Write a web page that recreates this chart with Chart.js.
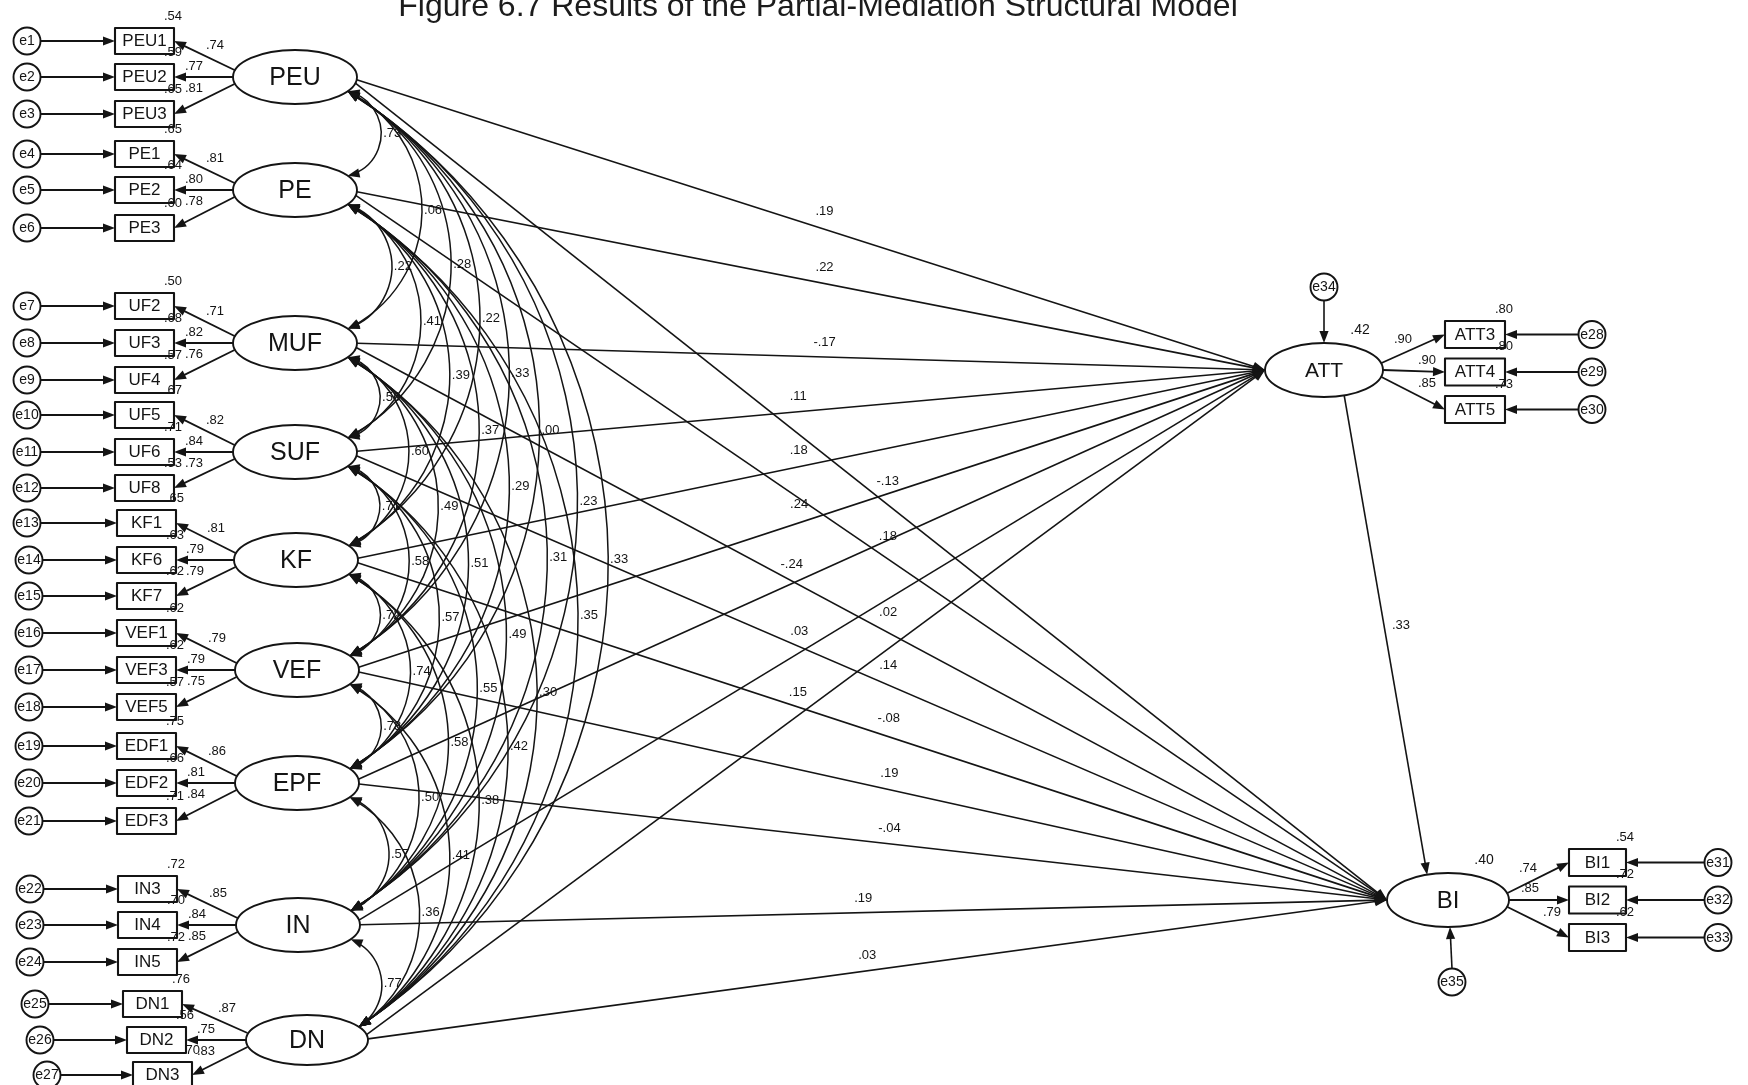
<!DOCTYPE html>
<html>
<head>
<meta charset="utf-8">
<title>Partial-Mediation Structural Model</title>
<script src="https://cdn.jsdelivr.net/npm/chart.js@4.4.1/dist/chart.umd.min.js"></script>
<style>
  html, body { margin: 0; padding: 0; background: #ffffff; overflow: hidden; }
  canvas { display: block; }
</style>
</head>
<body>
<canvas id="sem" width="1748" height="1085"></canvas>
<script>
// Standardized estimates of the partial-mediation structural model
const figureTitle = 'Figure 6.7 Results of the Partial-Mediation Structural Model';

// exogenous latent factors and their indicators
const exoFactors = ['PEU', 'PE', 'MUF', 'SUF', 'KF', 'VEF', 'EPF', 'IN', 'DN'];
const exoItems = [
  ['PEU1', 'PEU2', 'PEU3'], ['PE1', 'PE2', 'PE3'], ['UF2', 'UF3', 'UF4'],
  ['UF5', 'UF6', 'UF8'], ['KF1', 'KF6', 'KF7'], ['VEF1', 'VEF3', 'VEF5'],
  ['EDF1', 'EDF2', 'EDF3'], ['IN3', 'IN4', 'IN5'], ['DN1', 'DN2', 'DN3']
];
const exoLoadings = [
  [.74, .77, .81], [.81, .80, .78], [.71, .82, .76],
  [.82, .84, .73], [.81, .79, .79], [.79, .79, .75],
  [.86, .81, .84], [.85, .84, .85], [.87, .75, .83]
];
const exoItemSMC = [
  [.54, .59, .65], [.65, .64, .60], [.50, .68, .57],
  [.67, .71, .53], [.65, .63, .62], [.62, .62, .57],
  [.75, .66, .71], [.72, .70, .72], [.76, .56, .70]
];
const exoErrors = [
  ['e1', 'e2', 'e3'], ['e4', 'e5', 'e6'], ['e7', 'e8', 'e9'],
  ['e10', 'e11', 'e12'], ['e13', 'e14', 'e15'], ['e16', 'e17', 'e18'],
  ['e19', 'e20', 'e21'], ['e22', 'e23', 'e24'], ['e25', 'e26', 'e27']
];

// correlations among exogenous factors: row i holds r(i, 0..i-1)
const exoCorr = [
  [],
  [.73],
  [.06, .22],
  [.28, .41, .56],
  [.22, .39, .60, .71],
  [.33, .37, .49, .58, .72],
  [.00, .29, .51, .57, .74, .73],
  [.23, .31, .49, .55, .58, .50, .57],
  [.33, .35, .30, .42, .38, .41, .36, .77]
];

// structural paths
const pathToATT = [.19, .22, -.17, .11, .18, .24, -.24, .03, .15];
const pathToBI = [-.13, .18, .02, .14, -.08, .19, -.04, .19, .03];
const pathATTtoBI = .33;

// endogenous factors
const endoFactors = ['ATT', 'BI'];
const endoSMC = [.42, .40];
const endoDisturbances = ['e34', 'e35'];
const endoItems = [['ATT3', 'ATT4', 'ATT5'], ['BI1', 'BI2', 'BI3']];
const endoLoadings = [[.90, .90, .85], [.74, .85, .79]];
const endoItemSMC = [[.80, .80, .73], [.54, .72, .62]];
const endoErrors = [['e28', 'e29', 'e30'], ['e31', 'e32', 'e33']];

// ---------- drawing layout (diagram units on the x/y scales) ----------
const layout = {
  exoX: [295, 295, 295, 295, 296, 297, 297, 298, 307],
  exoY: [77, 190, 343, 452, 560, 670, 783, 925, 1040],
  exoRx: [62, 62, 62, 62, 62, 62, 62, 62, 61],
  exoRy: [27, 27, 27, 27, 27, 27, 27, 27, 25],
  itemDy: [[-36, 0, 37], [-36, 0, 38], [-37, 0, 37], [-37, 0, 36], [-37, 0, 36],
           [-37, 0, 37], [-37, 0, 38], [-36, 0, 37], [-36, 0, 35]],
  boxLeft: [[115, 115, 115], [115, 115, 115], [115, 115, 115], [115, 115, 115],
            [117, 117, 117], [117, 117, 117], [117, 117, 117], [118, 118, 118], [123, 127, 133]],
  boxW: 59, boxH: 26,
  errX: [[27, 27, 27], [27, 27, 27], [27, 27, 27], [27, 27, 27], [27, 29, 29],
         [29, 29, 29], [29, 29, 29], [30, 30, 30], [35, 40, 47]],
  errR: 13.5,
  loadPosLeft: [[-80, -32], [-101, -11], [-101, 11]],
  arcTheta: 32 * Math.PI / 180,
  arcBase: 351, arcGain: 0.267,
  endoX: [1324, 1448], endoY: [370, 900], endoRx: [59, 61], endoRy: [27, 27],
  endoFont: [21, 24],
  endoBoxLeft: [1445, 1569], endoBoxW: [60, 57], endoBoxH: 27,
  endoItemDy: [[-35.5, 2, 39.5], [-37.5, 0, 37.5]],
  endoErrX: [1592, 1718],
  endoLoadPos: [[[79, -31], [103, -10], [103, 13]], [[80, -32], [82, -12], [104, 12]]],
  disturbance: [[1324, 287], [1452, 982]],
  attLabelT: [.515, .515, .515, .486, .486, .486, .478, .486, .48],
  biLabelT: [.516, .516, .516, .516, .516, .516, .516, .49, .49],
  titleX: 818, titleY: 16
};

const ink = '#141414';
const FONT = '"Liberation Sans", Arial, Helvetica, sans-serif';
const fmt = v => (v < 0 ? '-' : '') + Math.abs(v).toFixed(2).replace(/^0/, '');

const semDiagram = {
  id: 'semDiagram',
  beforeDraw(chart) {
    const c = chart.ctx;
    c.save();
    c.fillStyle = '#ffffff';
    c.fillRect(0, 0, chart.width, chart.height);
    c.restore();
  },
  afterDraw(chart) {
    const ctx = chart.ctx;
    const sx = chart.scales.x, sy = chart.scales.y;
    const px = v => sx.getPixelForValue(v);
    const py = v => sy.getPixelForValue(v);
    const P = (x, y) => ({ x: px(x), y: py(y) });
    const lx = d => px(d) - px(0);
    const ly = d => Math.abs(py(d) - py(0));

    ctx.save();
    ctx.strokeStyle = ink;
    ctx.fillStyle = ink;
    ctx.lineJoin = 'round';
    ctx.lineCap = 'butt';

    const head = (tip, ux, uy, len = 12, hw = 4.6) => {
      ctx.beginPath();
      ctx.moveTo(tip.x, tip.y);
      ctx.lineTo(tip.x - ux * len - uy * hw, tip.y - uy * len + ux * hw);
      ctx.lineTo(tip.x - ux * len + uy * hw, tip.y - uy * len - ux * hw);
      ctx.closePath();
      ctx.fill();
    };
    const arrow = (a, b, w = 1.6) => {
      const A = P(a.x, a.y), B = P(b.x, b.y);
      const d = Math.hypot(B.x - A.x, B.y - A.y);
      const ux = (B.x - A.x) / d, uy = (B.y - A.y) / d;
      ctx.lineWidth = w;
      ctx.beginPath();
      ctx.moveTo(A.x, A.y);
      ctx.lineTo(B.x - ux * 6, B.y - uy * 6);
      ctx.stroke();
      head(B, ux, uy);
    };
    const label = (s, x, y, size, align = 'center', baseline = 'middle') => {
      ctx.font = size + 'px ' + FONT;
      ctx.textAlign = align;
      ctx.textBaseline = baseline;
      ctx.fillText(s, px(x), py(y));
    };
    const ellipse = (cx, cy, rx, ry) => {
      ctx.beginPath();
      ctx.ellipse(px(cx), py(cy), lx(rx), ly(ry), 0, 0, Math.PI * 2);
      ctx.fillStyle = '#ffffff';
      ctx.fill();
      ctx.fillStyle = ink;
      ctx.lineWidth = 1.9;
      ctx.stroke();
    };
    const box = (x, cy, w, h) => {
      ctx.lineWidth = 2.1;
      ctx.fillStyle = '#ffffff';
      ctx.fillRect(px(x), py(cy - h / 2), lx(w), ly(h));
      ctx.strokeRect(px(x), py(cy - h / 2), lx(w), ly(h));
      ctx.fillStyle = ink;
    };
    const circle = (cx, cy, r) => {
      ctx.beginPath();
      ctx.arc(px(cx), py(cy), lx(r), 0, Math.PI * 2);
      ctx.fillStyle = '#ffffff';
      ctx.fill();
      ctx.fillStyle = ink;
      ctx.lineWidth = 1.9;
      ctx.stroke();
    };
    const onEllipse = (cx, cy, rx, ry, a) => ({ x: cx + rx * Math.cos(a), y: cy + ry * Math.sin(a) });

    // ---- title (runs off the top edge) ----
    ctx.font = '32px ' + FONT;
    ctx.textAlign = 'center';
    ctx.textBaseline = 'alphabetic';
    ctx.fillStyle = '#1c1c1c';
    ctx.fillText(figureTitle, px(layout.titleX), py(layout.titleY));
    ctx.fillStyle = ink;

    const nF = exoFactors.length;
    const ATT = { x: layout.endoX[0], y: layout.endoY[0], rx: layout.endoRx[0], ry: layout.endoRy[0] };
    const BI = { x: layout.endoX[1], y: layout.endoY[1], rx: layout.endoRx[1], ry: layout.endoRy[1] };

    // ---- shapes first so connectors sit on top ----
    exoFactors.forEach((f, i) => ellipse(layout.exoX[i], layout.exoY[i], layout.exoRx[i], layout.exoRy[i]));
    [ATT, BI].forEach(e => ellipse(e.x, e.y, e.rx, e.ry));

    // ---- correlation arcs among exogenous factors ----
    const th = layout.arcTheta;
    const corrLabels = [];
    for (let j = 1; j < nF; j++) {
      for (let i = 0; i < j; i++) {
        const a = onEllipse(layout.exoX[i], layout.exoY[i], layout.exoRx[i], layout.exoRy[i], th);
        const b = onEllipse(layout.exoX[j], layout.exoY[j], layout.exoRx[j], layout.exoRy[j], -th);
        const apex = { x: layout.arcBase + layout.arcGain * (layout.exoY[j] - layout.exoY[i]), y: (a.y + b.y) / 2 };
        const A = P(a.x, a.y), B = P(b.x, b.y), M = P(apex.x, apex.y);
        const d = 2 * (A.x * (B.y - M.y) + B.x * (M.y - A.y) + M.x * (A.y - B.y));
        const s1 = A.x * A.x + A.y * A.y, s2 = B.x * B.x + B.y * B.y, s3 = M.x * M.x + M.y * M.y;
        const cx = (s1 * (B.y - M.y) + s2 * (M.y - A.y) + s3 * (A.y - B.y)) / d;
        const cy = (s1 * (M.x - B.x) + s2 * (A.x - M.x) + s3 * (B.x - A.x)) / d;
        const r = Math.hypot(A.x - cx, A.y - cy);
        const a1 = Math.atan2(A.y - cy, A.x - cx);
        const a2 = Math.atan2(B.y - cy, B.x - cx);
        const trim = 6 / r;
        ctx.lineWidth = 1.5;
        ctx.beginPath();
        ctx.arc(cx, cy, r, a1 + trim, a2 - trim, false);
        ctx.stroke();
        head(A, Math.sin(a1), -Math.cos(a1));
        head(B, -Math.sin(a2), Math.cos(a2));
        corrLabels.push([fmt(exoCorr[j][i]), apex.x + 2, apex.y]);
      }
    }

    // ---- structural paths ----
    const attIn = { x: ATT.x - ATT.rx, y: ATT.y };
    const biIn = { x: BI.x - BI.rx, y: BI.y };
    const pathLabels = [];
    exoFactors.forEach((f, i) => {
      const fx = layout.exoX[i], fy = layout.exoY[i];
      [[attIn, pathToATT[i], layout.attLabelT[i]], [biIn, pathToBI[i], layout.biLabelT[i]]].forEach(([tgt, v, t]) => {
        const ang = 0.35 * Math.atan2(tgt.y - fy, tgt.x - fx);
        const s = onEllipse(fx, fy, layout.exoRx[i], layout.exoRy[i], ang);
        arrow(s, tgt, 1.6);
        const slope = (tgt.y - s.y) / (tgt.x - s.x);
        const lxp = s.x + t * (tgt.x - s.x);
        const lyp = s.y + t * (tgt.y - s.y) - (14 + 12 * Math.abs(slope));
        pathLabels.push([fmt(v), lxp, lyp]);
      });
    });
    // ATT -> BI
    {
      const s = onEllipse(ATT.x, ATT.y, ATT.rx, ATT.ry, 70 * Math.PI / 180);
      const e = onEllipse(BI.x, BI.y, BI.rx, BI.ry, -110 * Math.PI / 180);
      arrow(s, e, 1.6);
      const t = 0.48;
      pathLabels.push([fmt(pathATTtoBI), s.x + t * (e.x - s.x) + 17, s.y + t * (e.y - s.y)]);
    }

    // ---- measurement model, exogenous side ----
    exoFactors.forEach((f, i) => {
      const fx = layout.exoX[i], fy = layout.exoY[i], rx = layout.exoRx[i];
      exoItems[i].forEach((item, k) => {
        const cy = fy + layout.itemDy[i][k];
        const left = layout.boxLeft[i][k], right = left + layout.boxW;
        box(left, cy, layout.boxW, layout.boxH);
        label(item, left + layout.boxW / 2, cy + 0.5, 17);
        // error term
        const ex = layout.errX[i][k];
        circle(ex, cy, layout.errR);
        label(exoErrors[i][k], ex, cy + 0.5, 14);
        arrow({ x: ex + layout.errR, y: cy }, { x: left, y: cy }, 1.8);
        // loading
        const sy0 = fy + (k - 1) * 7;
        arrow({ x: fx - rx + (k === 1 ? 0 : 1.5), y: sy0 }, { x: right, y: cy }, 1.8);
        const lp = layout.loadPosLeft[k];
        label(fmt(exoLoadings[i][k]), fx + lp[0], fy + lp[1], 13);
        // squared multiple correlation
        label(fmt(exoItemSMC[i][k]), right + 8, cy - layout.boxH / 2 - 12, 13, 'right');
      });
      label(f, fx, fy + 1, 25);
    });

    // ---- measurement model, endogenous side ----
    [ATT, BI].forEach((E, m) => {
      const left = layout.endoBoxLeft[m], w = layout.endoBoxW[m], h = layout.endoBoxH;
      endoItems[m].forEach((item, k) => {
        const cy = E.y + layout.endoItemDy[m][k];
        box(left, cy, w, h);
        label(item, left + w / 2, cy + 0.5, 17);
        const ex = layout.endoErrX[m];
        circle(ex, cy, layout.errR);
        label(endoErrors[m][k], ex, cy + 0.5, 14);
        arrow({ x: ex - layout.errR, y: cy }, { x: left + w, y: cy }, 1.8);
        arrow({ x: E.x + E.rx - (k === 1 ? 0 : 1.5), y: E.y + (k - 1) * 7 }, { x: left, y: cy }, 1.8);
        const lp = layout.endoLoadPos[m][k];
        label(fmt(endoLoadings[m][k]), E.x + lp[0], E.y + lp[1], 13);
        label(fmt(endoItemSMC[m][k]), left + w + 8, cy - h / 2 - 12, 13, 'right');
      });
      // disturbance
      const d = layout.disturbance[m];
      circle(d[0], d[1], layout.errR);
      label(endoDisturbances[m], d[0], d[1] + 0.5, 14);
      if (m === 0) arrow({ x: d[0], y: d[1] + layout.errR }, { x: E.x, y: E.y - E.ry }, 1.6);
      else arrow({ x: d[0], y: d[1] - layout.errR }, { x: E.x + 2, y: E.y + E.ry }, 1.6);
      label(endoFactors[m], E.x, E.y + 1, layout.endoFont[m]);
      label(fmt(endoSMC[m]), E.x + 36, E.y - 40, 14);
    });

    // ---- coefficient labels ----
    corrLabels.forEach(([s, x, y]) => label(s, x, y, 13, 'left'));
    pathLabels.forEach(([s, x, y]) => label(s, x, y, 13));

    ctx.restore();
  }
};

new Chart(document.getElementById('sem'), {
  type: 'scatter',
  data: { datasets: [] },
  options: {
    responsive: false,
    animation: false,
    devicePixelRatio: 1,
    events: [],
    layout: { padding: 0 },
    plugins: { legend: { display: false }, tooltip: { enabled: false }, title: { display: false } },
    scales: {
      x: { type: 'linear', min: 0, max: 1748, display: false },
      y: { type: 'linear', min: 0, max: 1085, reverse: true, display: false }
    }
  },
  plugins: [semDiagram]
});
</script>
</body>
</html>
